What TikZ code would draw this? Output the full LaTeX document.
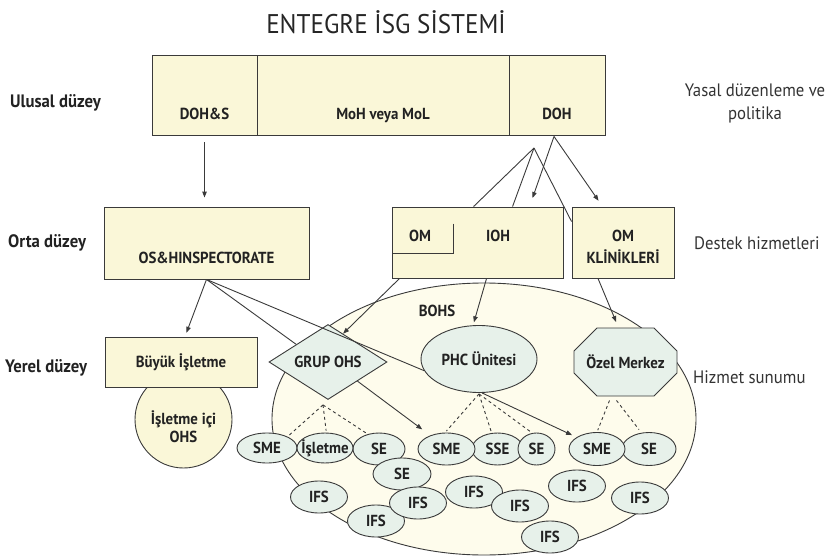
\documentclass[tikz,border=0pt]{standalone}
\usepackage{fontspec}
\setmainfont{PT Sans}[FakeStretch=0.93]
\usetikzlibrary{calc,arrows.meta,positioning,shapes.geometric,shapes.misc}

\definecolor{boxfill}{HTML}{FAF7D8}
\definecolor{bohsfill}{HTML}{FEFCEC}
\definecolor{unitfill}{HTML}{E7F1EA}
\definecolor{linecol}{HTML}{3A3A3A}
\definecolor{txtcol}{HTML}{222222}

\newcommand{\lblfont}{\fontsize{16}{18}\selectfont\bfseries}
\newcommand{\lvlfont}{\fontsize{18}{20}\selectfont\bfseries}
\newcommand{\sidefont}{\fontsize{18}{23}\selectfont}
\newcommand{\titlefont}{\fontsize{27}{30}\selectfont}

\begin{document}
\begin{tikzpicture}[x=1pt,y=-1pt,>={Triangle[length=6pt,width=4.5pt]},inner sep=0pt,every node/.style={text=txtcol}]
  % Styles
  \tikzset{box/.style={draw=linecol,fill=boxfill,line width=0.9pt,font=\lblfont},
           unit/.style={ellipse,draw=linecol,fill=unitfill,line width=0.9pt,inner xsep=-8pt,font=\lblfont},
           link/.style={->,draw=linecol,line width=0.9pt},
           plain/.style={draw=linecol,line width=0.9pt},
           dotlink/.style={draw=linecol,line width=0.9pt,dash pattern=on 3pt off 3pt},
           lvl/.style={anchor=west,font=\lvlfont},
           side/.style={font=\sidefont,text=black!80}}

  \useasboundingbox (0,0) rectangle (830,559);

  % Title
  \node[font=\titlefont,text=black!85] (title) at (386,22) {ENTEGRE İSG SİSTEMİ};

  % Level names (left) and roles (right)
  \node[lvl] (national) at (10,103) {Ulusal düzey};
  \node[lvl] (regional) at (8,243) {Orta düzey};
  \node[lvl] (local) at (5,368) {Yerel düzey};
  \node[side,align=center] (legal) at (755,103) {Yasal düzenleme ve\\politika};
  \node[side,anchor=west] (support) at (694,243) {Destek hizmetleri};
  \node[side,anchor=west] (delivery) at (693,377) {Hizmet sunumu};

  % National level
  \node[box,minimum width=105,text height=64.5pt,text depth=15.5pt] (dohs) at (204.5,95) {DOH\&S};
  \node[box,minimum width=252,text height=64.5pt,text depth=15.5pt] (moh) at (383,95) {MoH veya MoL};
  \node[box,minimum width=96,text height=64.5pt,text depth=15.5pt] (doh) at (557,95) {DOH};

  % Middle level
  \node[box,minimum width=205,text height=56.5pt,text depth=15.5pt] (osh) at (206.5,243) {OS\&HINSPECTORATE};
  \node[box,minimum width=171,minimum height=71] (iohbox) at (477.5,242.5) {};
  \node[font=\lblfont] (om) at (420,236) {OM};
  \node[font=\lblfont] (ioh) at (498,236) {IOH};
  \draw[plain] ($(iohbox.north west)+(62,17)$) |- ($(iohbox.north west)+(0,47)$);
  \node[box,minimum width=102,align=center,font={\fontsize{16}{22}\selectfont\bfseries},
        text height=56.5pt,text depth=14.5pt] (omk) at (623,242.5) {OM\\KLİNİKLERİ};

  % Local level: large enterprise
  \node[circle,draw=linecol,fill=boxfill,line width=0.9pt,minimum size=97,align=center,
        font=\lblfont,text height=50pt,text depth=4pt] (inhouse) at (183.5,419.5) {İşletme içi\\OHS};
  \node[box,minimum width=152,minimum height=50] (buyuk) at (181,362) {Büyük İşletme};

  % Basic OHS area
  \node[ellipse,draw=linecol,fill=bohsfill,line width=0.9pt,minimum width=424,minimum height=272] (bohs) at (484,419) {};
  \node[font=\lblfont] (bohslbl) at (437,311) {BOHS};
  \node[diamond,draw=linecol,fill=unitfill,line width=0.9pt,aspect=1.57,minimum width=118,minimum height=75,font=\lblfont] (grup) at (328,362) {GRUP OHS};
  \node[unit,minimum width=116,minimum height=67] (phc) at (479,359) {PHC Ünitesi};
  \node[chamfered rectangle,chamfered rectangle xsep=16pt,chamfered rectangle ysep=16pt,draw=linecol,fill=unitfill,
        line width=0.9pt,minimum width=103,minimum height=68,font=\lblfont] (ozel) at (625.5,362) {Özel Merkez};

  % Enterprises served
  \node[unit,minimum width=60,minimum height=30] (sme1) at (267,448) {SME};
  \node[unit,minimum width=52,minimum height=32] (se1) at (379,449) {SE};
  \node[unit,minimum width=56,minimum height=30] (isl) at (325,448) {İşletme};
  \node[unit,minimum width=58,minimum height=32] (se1b) at (402,474) {SE};
  \node[unit,minimum width=51,minimum height=32] (sse) at (497.5,449) {SSE};
  \node[unit,minimum width=57,minimum height=32] (sme2) at (446.5,449) {SME};
  \node[unit,minimum width=37,minimum height=32] (se2) at (536.5,449) {SE};
  \node[unit,minimum width=54,minimum height=33] (se3) at (649,449) {SE};
  \node[unit,minimum width=56,minimum height=33] (sme3) at (597,449) {SME};
  \foreach \n/\px/\py in {1/319/497,2/376/521,3/418/503,4/474/492,5/520/506,6/550/537,7/577/486,8/640/498}
    \node[unit,minimum width=57,minimum height=32] (ifs\n) at (\px,\py) {IFS};

  % National -> middle
  \coordinate (dohfoot) at ($(doh.south)+(-3,1)$);
  \coordinate (fork) at (534,148);
  \draw[link,shorten <=7pt,shorten >=9pt] (dohs.south) -- (dohs.south |- osh.north);
  \draw[link,shorten >=9pt] (dohfoot) -- ($(iohbox.north west)+(138,0)$);
  \draw[link,shorten >=7pt] (dohfoot) -- ($(omk.north west)+(31,0)$);
  \draw[plain] (fork) -- ($(iohbox.north west)+(82,0)$);
  \draw[plain] (fork) -- ($(iohbox.north west)+(121,0)$);
  \draw[plain] (fork) -- ($(omk.north west)+(0,15)$);

  % Middle -> local
  \draw[link,shorten >=4pt] (osh.south) -- ($(buyuk.north)+(4,0)$);
  \draw[plain] (osh.south) -- (grup.151);
  \draw[plain] (osh.south) -- (phc.192);
  \draw[link] ($(iohbox.south west)+(8,0)$) -- (grup.62);
  \draw[link,shorten >=3pt] ($(iohbox.south west)+(95,0)$) -- (phc.100);
  \draw[link,shorten >=6pt] ($(omk.south)+(-25,0)$) -- ($(ozel.north)+(-7,0)$);

  % Units -> enterprises
  \draw[link,shorten >=10pt] (grup.-33) -- (sme2.140);
  \draw[link,shorten >=5pt] (phc.-85) -- (sme3.150);
  \coordinate (grupfoot) at ($(grup.south)+(-5,5)$);
  \coordinate (phcfoot) at ($(phc.south)+(0,1)$);
  \draw[dotlink,shorten >=2pt] (grupfoot) -- (sme1.29);
  \draw[dotlink,shorten >=2pt] (grupfoot) -- (isl.85);
  \draw[dotlink,shorten >=2pt] (grupfoot) -- (se1.127);
  \draw[dotlink,shorten >=2pt] (phcfoot) -- (sme2.95);
  \draw[dotlink,shorten >=2pt] (phcfoot) -- (sse.110);
  \draw[dotlink,shorten >=2pt] (phcfoot) -- (se2.105);
  \draw[dotlink,shorten >=2pt] ($(ozel.south)+(-16,4)$) -- (sme3.north);
  \draw[dotlink,shorten >=4pt] ($(ozel.south)+(-9,4)$) -- (se3.115);
\end{tikzpicture}
\end{document}
